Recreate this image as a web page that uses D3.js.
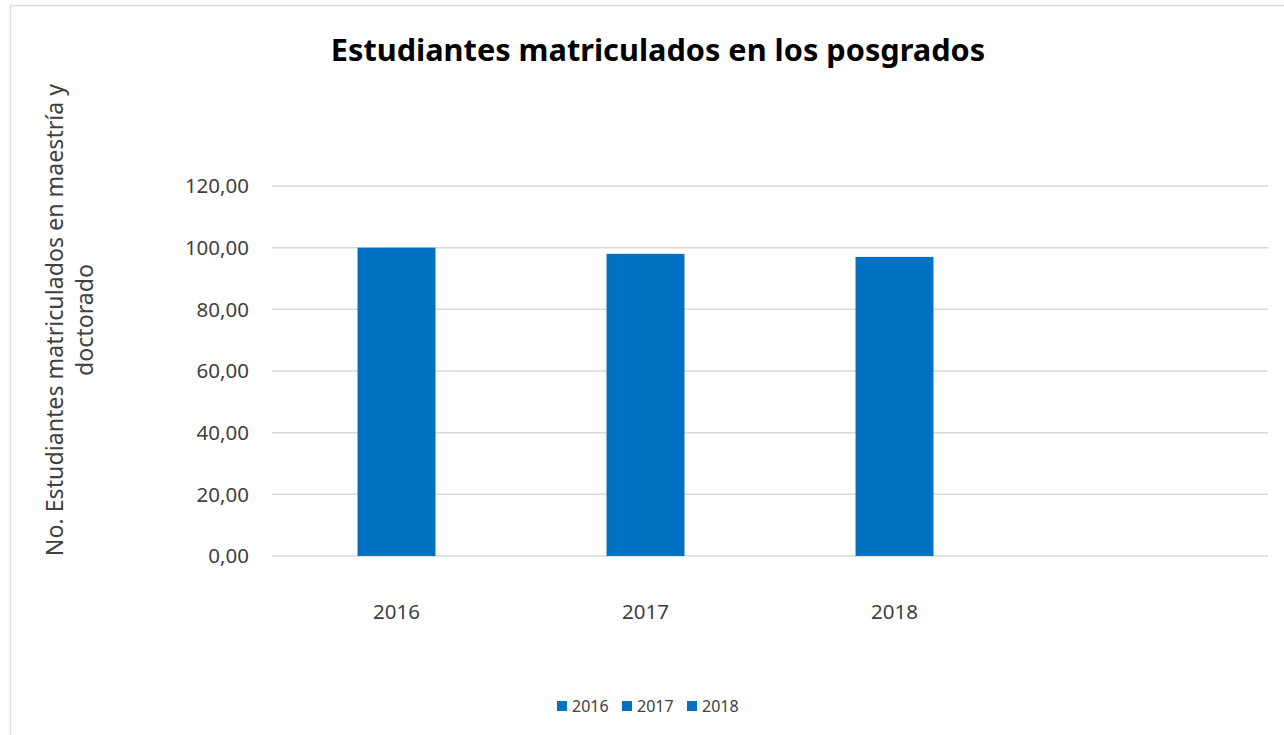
<!DOCTYPE html>
<html>
<head>
<meta charset="UTF-8">
<title>Estudiantes matriculados en los posgrados</title>
<script src="https://d3js.org/d3.v7.min.js"></script>
<style>
  body { margin: 0; background: #fff; }
  text { font-family: "Noto Sans", "Open Sans", sans-serif; }
</style>
</head>
<body>
<div id="chart"></div>
<script>
// data
var categories = ["2016", "2017", "2018", ""];   // last slot is empty in the original sheet
var values = [100, 98, 97, null];
var legendLabels = ["2016", "2017", "2018"];
var yTicks = [0, 20, 40, 60, 80, 100, 120];

var width = 1284, height = 735;
var margin = { top: 186, right: 16, bottom: 179, left: 272 };
var barColor = "#0070c0";

var svg = d3.select("#chart").append("svg")
    .attr("width", width)
    .attr("height", height);

// outer chart border (runs off the right/bottom edge)
svg.append("rect")
    .attr("x", 10.5).attr("y", 5.5)
    .attr("width", 1400).attr("height", 900)
    .attr("fill", "none")
    .attr("stroke", "#d9d9d9")
    .attr("stroke-width", 1.5);

var x = d3.scaleBand()
    .domain(categories)
    .range([margin.left, width - margin.right])
    .paddingInner(0.687)
    .paddingOuter(0.3435);

var y = d3.scaleLinear()
    .domain([0, 120])
    .range([height - margin.bottom, margin.top]);

// gridlines
svg.append("g")
    .selectAll("line")
    .data(yTicks)
    .enter().append("line")
    .attr("x1", margin.left)
    .attr("x2", width - margin.right)
    .attr("y1", function(d) { return y(d); })
    .attr("y2", function(d) { return y(d); })
    .attr("stroke", "#d9d9d9")
    .attr("stroke-width", 1.5);

// y tick labels
var fmt = function(d) { return d3.format(".2f")(d).replace(".", ","); };
svg.append("g")
    .selectAll("text")
    .data(yTicks)
    .enter().append("text")
    .attr("x", 249)
    .attr("y", function(d) { return y(d); })
    .attr("dy", "0.35em")
    .attr("text-anchor", "end")
    .attr("font-size", 20.5)
    .attr("fill", "#404040")
    .text(fmt);

// bars
var barData = categories.map(function(c, i) { return { cat: c, val: values[i] }; })
    .filter(function(d) { return d.val != null; });

svg.append("g")
    .selectAll("rect")
    .data(barData)
    .enter().append("rect")
    .attr("x", function(d) { return x(d.cat); })
    .attr("width", x.bandwidth())
    .attr("y", function(d) { return y(d.val); })
    .attr("height", function(d) { return y(0) - y(d.val); })
    .attr("fill", barColor);

// x labels
svg.append("g")
    .selectAll("text")
    .data(categories.filter(function(c) { return c !== ""; }))
    .enter().append("text")
    .attr("x", function(d) { return x(d) + x.bandwidth() / 2; })
    .attr("y", 619)
    .attr("text-anchor", "middle")
    .attr("font-size", 20.5)
    .attr("fill", "#404040")
    .text(function(d) { return d; });

// title
svg.append("text")
    .attr("x", 658)
    .attr("y", 61)
    .attr("text-anchor", "middle")
    .attr("font-size", 30.7)
    .attr("font-weight", "bold")
    .attr("fill", "#000")
    .text("Estudiantes matriculados en los posgrados");

// y axis title (two lines)
var yTitle = svg.append("text")
    .attr("transform", "translate(0,320) rotate(-90)")
    .attr("text-anchor", "middle")
    .attr("font-size", 23.2)
    .attr("fill", "#404040");
yTitle.append("tspan").attr("x", 0).attr("y", 63)
    .text("No. Estudiantes matriculados en maestría y");
yTitle.append("tspan").attr("x", 0).attr("y", 93)
    .text("doctorado");

// legend
var legendX = [557, 622, 687];
var legend = svg.append("g")
    .selectAll("g")
    .data(legendLabels)
    .enter().append("g")
    .attr("transform", function(d, i) { return "translate(" + legendX[i] + ",701)"; });
legend.append("rect")
    .attr("width", 10).attr("height", 10)
    .attr("fill", barColor);
legend.append("text")
    .attr("x", 15)
    .attr("y", 5)
    .attr("dy", "0.35em")
    .attr("font-size", 16)
    .attr("fill", "#404040")
    .text(function(d) { return d; });
</script>
</body>
</html>
